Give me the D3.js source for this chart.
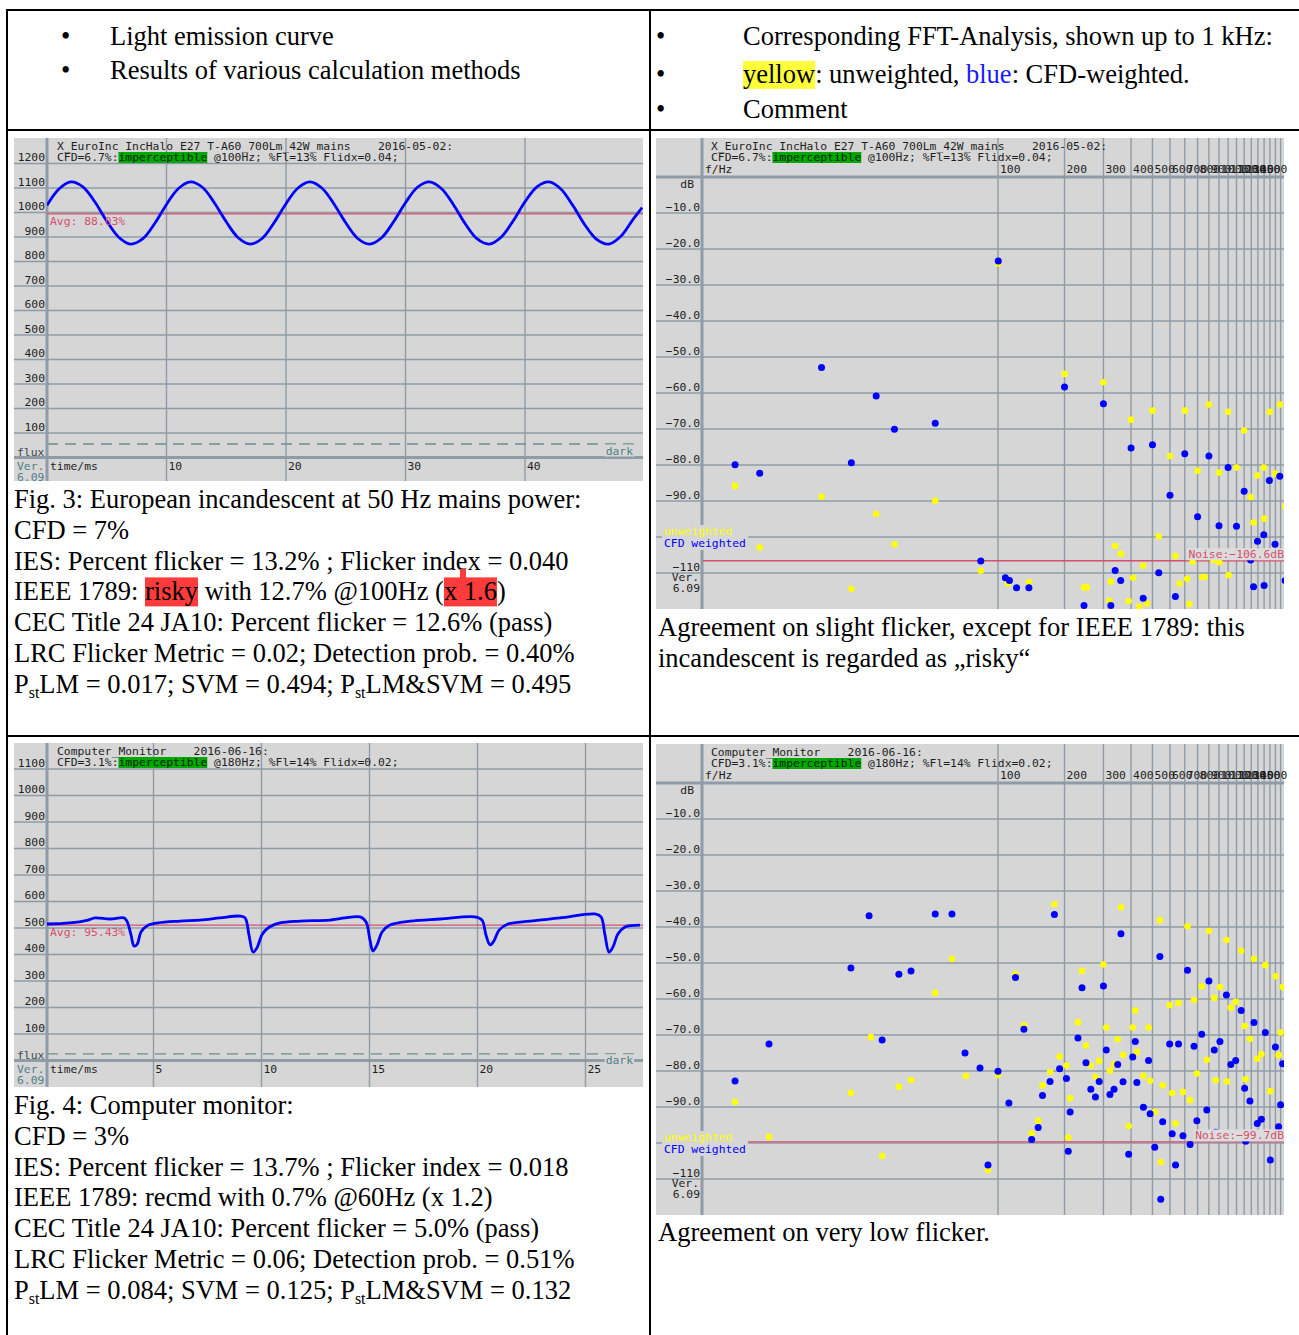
<!DOCTYPE html>
<html lang="en">
<head>
<meta charset="utf-8">
<title>Flicker measurements: incandescent lamp and computer monitor</title>
<script src="https://cdn.jsdelivr.net/npm/d3@7/dist/d3.min.js"></script>
<style>
  html, body { margin: 0; padding: 0; background: #ffffff; }
  svg { display: block; }
  text { white-space: pre; }
</style>
</head>
<body>
<svg id="fig" width="1299" height="1335"></svg>
<script>
// ---------------------------------------------------------------------------
// Fig. 3 – light output of a European incandescent lamp on 50 Hz mains
// [time in ms, relative flux]
const incandescentFlux = [
  [0,1029],[1,1096],[2,1125],[3,1105],[4,1044],[5,965],[6,899],[7,871],[8,892],[9,954],
  [10,1033],[11,1098],[12,1125],[13,1103],[14,1040],[15,962],[16,897],[17,871],[18,894],[19,958],
  [20,1036],[21,1100],[22,1125],[23,1100],[24,1036],[25,958],[26,894],[27,871],[28,897],[29,962],
  [30,1040],[31,1103],[32,1125],[33,1098],[34,1033],[35,954],[36,892],[37,871],[38,899],[39,965],
  [40,1044],[41,1105],[42,1125],[43,1096],[44,1029],[45,950],[46,890],[47,871],[48,902],[49,969],[49.8,1020]
];
const incandescentAvg = 994;
const incandescentDark = 55;
const fluxTicksFig3 = [100,200,300,400,500,600,700,800,900,1000,1100,1200];
const timeTicksFig3 = [10,20,30,40];

// Fig. 4 – light output of a computer monitor backlight
const monitorFlux = [
  [0.07,515],[1.13,519],[1.97,530],[2.29,538],[2.99,534],[3.63,538],[3.77,526],[3.96,474],[4.10,432],[4.24,438],
  [4.42,485],[4.70,508],[5.21,519],[6.23,526],[7.15,530],[8.08,538],[9.0,545],[9.24,538],[9.42,474],[9.61,409],
  [9.79,425],[10.02,474],[10.3,500],[10.86,519],[11.78,526],[13.17,530],[14.56,542],[14.84,523],[15.02,455],[15.16,413],
  [15.35,436],[15.58,485],[15.95,511],[16.88,526],[18.27,534],[19.88,542],[20.21,530],[20.39,474],[20.58,436],[20.76,451],
  [21.0,492],[21.41,515],[22.43,526],[23.82,538],[25.44,553],[25.72,542],[25.9,474],[26.09,409],[26.27,428],[26.5,477],
  [26.83,504],[27.52,511]
];
const monitorAvg = 511;
const monitorDark = 25;
const fluxTicksFig4 = [100,200,300,400,500,600,700,800,900,1000,1100];
const timeTicksFig4 = [5,10,15,20,25];

// FFT spectra, [frequency in Hz, level in dB]
const spectrumFig3Unweighted = [
  [6.46,-85.8],[8.35,-102.9],[15.9,-88.8],[21.7,-114.4],[28.1,-93.6],[34.0,-102.0],[52.0,-89.9],[83.6,-109.4],
  [100.3,-24.0],[110.9,-112.9],[138,-112.6],[200,-54.7],[245,-114],[252,-114],[300,-57.0],[319,-117.7],[324,-112.4],
  [339,-102.5],[359,-104.7],[390,-117.8],[400,-67.4],[409,-111.3],[436,-119.3],[454,-108],[473,-118.5],[500,-64.9],
  [534,-99.8],[600,-77.5],[635,-105.3],[663,-112.9],[700,-64.9],[718,-111.6],[734,-118.6],[760,-106.9],[800,-81.6],
  [840,-111.1],[860,-111.1],[900,-63.2],[944,-106.4],[1000,-82.1],[1003,-107.0],[1100,-65.2],[1105,-110.6],
  [1200,-80.7],[1300,-70.4],[1390,-88.9],[1433,-96.0],[1494,-82.9],[1595,-80.7],[1600,-94.9],[1697,-65.2],
  [1793,-82.4],[1883,-63.2],[1990,-91.6]
];
const spectrumFig3Weighted = [
  [6.46,-79.9],[8.35,-82.3],[15.9,-52.9],[21.7,-79.4],[28.1,-60.8],[34.0,-70.1],[52.0,-68.4],[83.6,-106.7],
  [100.3,-23.3],[108,-111.3],[112.7,-112.1],[121.3,-114.1],[138,-114.1],[200,-58.3],[245,-119],[300,-63.0],
  [324,-119],[339,-109.3],[359,-112.1],[400,-75.3],[454,-117],[500,-74.4],[534,-109.9],[600,-88.4],[635,-116.5],
  [700,-76.9],[800,-94.4],[900,-77.5],[1000,-96.9],[1100,-80.7],[1200,-97.0],[1300,-87.3],[1390,-106.4],
  [1433,-113.8],[1494,-101.2],[1595,-99.4],[1600,-113.5],[1690,-84.3],[1793,-102.0],[1883,-83.1],[1990,-112.1]
];
const noiseFig3 = -106.6;

const spectrumFig4Unweighted = [
  [6.46,-88.6],[9.2,-98.3],[21.6,-86.1],[26.6,-70.6],[29.9,-103.6],[35.6,-84.4],[40.4,-82.5],[52.0,-58.3],
  [61.9,-48.9],[71.6,-81.4],[90.1,-107.5],[100,-81.1],[120,-53.1],[131,-67.3],[142,-97.3],[152,-93.8],[159,-84],
  [172,-80.3],[180,-33.7],[190,-76],[204,-78.5],[208,-98.5],[212,-87.6],[230,-66.5],[240,-52.2],[250,-72.9],
  [263,-78.5],[276,-81.6],[287,-77.2],[300,-50.4],[309,-67.9],[321,-79.9],[335,-78.1],[348,-71.2],[360,-34.5],
  [368,-75.5],[390,-95.3],[407,-67.9],[418,-63.2],[425,-74.7],[455,-81.3],[480,-67.9],[488,-82.7],[512,-91.4],
  [540,-38.1],[545,-105.3],[556,-84],[598,-61.7],[614,-86.1],[636,-94.6],[656,-61.1],[687,-85.8],[720,-39.8],
  [740,-88.1],[771,-60.3],[794,-80.7],[835,-56.5],[881,-76.9],[900,-41.1],[952,-59.7],[967,-82.6],[1010,-56.7],
  [1080,-43.6],[1085,-82.9],[1131,-62.4],[1190,-60.8],[1260,-46.6],[1306,-67.5],[1320,-82.3],[1380,-71.1],
  [1440,-48.8],[1490,-76.6],[1555,-75.3],[1620,-50.6],[1707,-85.6],[1800,-53.7],[1860,-75.6],[1900,-69.3],[1940,-56.7]
];
const spectrumFig4Weighted = [
  [6.46,-82.8],[9.2,-72.5],[21.6,-51.4],[26.1,-36.9],[29.9,-71.4],[35.6,-53.1],[40.4,-52.2],[52.0,-36.4],
  [61.9,-36.4],[70.9,-75],[82.9,-79.2],[90.1,-106.1],[100,-80.1],[112,-88.9],[120,-54],[131,-68.4],[142,-99],
  [152,-95.7],[159,-86.8],[172,-82.9],[180,-36.5],[190,-79.4],[204,-82.1],[208,-102.3],[212,-91.4],[230,-70.8],
  [240,-56.9],[250,-77.7],[263,-85.1],[276,-87.2],[287,-82.9],[300,-56.4],[309,-74.2],[321,-86.5],[335,-85.1],
  [348,-78.2],[360,-41.9],[368,-83],[390,-103.1],[407,-76.1],[418,-71.8],[425,-83.2],[455,-90.1],[480,-77.1],
  [488,-91.9],[512,-101.2],[540,-48.2],[545,-115.6],[556,-94.1],[598,-72.5],[614,-97.4],[636,-106.1],[656,-72.5],
  [687,-98],[720,-52],[740,-100.4],[771,-73.1],[794,-93.8],[835,-69.8],[881,-90.8],[900,-55],[952,-74.2],[967,-97],
  [1010,-71.8],[1080,-58.9],[1085,-98.1],[1131,-78.2],[1190,-77.1],[1260,-63.2],[1306,-84.8],[1320,-99.5],
  [1380,-88.3],[1440,-66.5],[1490,-94.6],[1555,-93.4],[1620,-69.3],[1707,-104.7],[1800,-73.3],[1860,-95.5],
  [1900,-89.4],[1940,-78]
];
const noiseFig4 = -99.7;

const dbTicks = [-10,-20,-30,-40,-50,-60,-70,-80,-90,-100,-110];
const freqGrid = [100,200,300,400,500,600,700,800,900,1000,1100,1200,1300,1400,1500,1600,1700,1800,1900];
const freqLabels = [100,200,300,400,500,600,700,800,900,1000,1100,1200,1300,1400,1500];

// ---------------------------------------------------------------------------
const svg = d3.select("#fig");
const MONO = "'DejaVu Sans Mono', 'Liberation Mono', monospace";
const SERIF = "'Liberation Serif', 'Times New Roman', serif";
const COL = {
  panel: "#d6d6d6", grid: "#8f9ca8", axis: "#8f9ca8", text: "#1e1e1e",
  teal: "#4f7f86", avg: "#d5506e", curve: "#0000ff",
  blue: "#0000ff", yellow: "#ffff00", green: "#00a800", red: "#ff3b3b"
};
const MS = 11.35;  // size of the instrument's monospaced text
const TS = 26.5;   // size of the table text

svg.append("rect").attr("width", 1299).attr("height", 1335).attr("fill", "#ffffff");

// Writes a run of text pieces one after another; pieces can carry a background or be subscripts.
function richLine(g, x, y, parts, font, size, fill) {
  let cx = x;
  parts.forEach(p => {
    const s = p.sub ? size * 0.6 : size;
    const t = g.append("text")
      .attr("x", cx).attr("y", p.sub ? y + size * 0.2 : y)
      .attr("font-family", font).attr("font-size", s)
      .attr("fill", p.fill || fill)
      .text(p.t);
    const w = t.node().getComputedTextLength();
    if (p.bg) {
      g.insert("rect", () => t.node())
        .attr("x", cx + (p.dx || 0)).attr("y", y - p.up)
        .attr("width", w + (p.dw || 0)).attr("height", p.h)
        .attr("fill", p.bg);
    }
    cx += w;
  });
  return cx;
}

// ---------------------------------------------------------------------------
// time-domain panel (flux versus time)
function timePanel(o) {
  const g = svg.append("g");
  const x = d3.scaleLinear().domain(o.tDomain).range(o.xRange);
  const y = d3.scaleLinear().domain(o.vDomain).range(o.yRange);
  const axisY = y(0);

  g.append("clipPath").attr("id", o.id + "-clip").append("rect")
    .attr("x", o.axisX).attr("y", o.y0).attr("width", o.x1 - o.axisX).attr("height", axisY - o.y0);

  g.append("rect").attr("x", o.x0).attr("y", o.y0)
    .attr("width", o.x1 - o.x0).attr("height", o.y1 - o.y0).attr("fill", COL.panel);

  g.append("g").selectAll("line").data(o.vTicks).join("line")
    .attr("x1", o.x0).attr("x2", o.x1)
    .attr("y1", d => y(d)).attr("y2", d => y(d))
    .attr("stroke", COL.grid).attr("stroke-width", 1.4);

  g.append("g").selectAll("line").data(o.tTicks).join("line")
    .attr("x1", d => x(d)).attr("x2", d => x(d))
    .attr("y1", o.y0).attr("y2", o.y1)
    .attr("stroke", COL.grid).attr("stroke-width", 1.4);

  // dark level
  g.append("line")
    .attr("x1", o.axisX).attr("x2", o.x1 - 6)
    .attr("y1", y(o.dark)).attr("y2", y(o.dark))
    .attr("stroke", "#6d8c8c").attr("stroke-width", 1.4).attr("stroke-dasharray", "11,7");

  // frame axes
  g.append("line").attr("x1", o.x0).attr("x2", o.x1).attr("y1", axisY).attr("y2", axisY)
    .attr("stroke", COL.axis).attr("stroke-width", 3);
  g.append("line").attr("x1", o.axisX).attr("x2", o.axisX).attr("y1", o.y0).attr("y2", o.y1)
    .attr("stroke", COL.axis).attr("stroke-width", 3);

  // average
  g.append("line").attr("x1", o.axisX).attr("x2", o.x1)
    .attr("y1", y(o.avg)).attr("y2", y(o.avg))
    .attr("stroke", COL.avg).attr("stroke-width", 1.3);

  const line = d3.line().x(d => x(d[0])).y(d => y(d[1])).curve(d3.curveCatmullRom.alpha(0.5));
  g.append("path").datum(o.data)
    .attr("d", line).attr("fill", "none")
    .attr("stroke", COL.curve).attr("stroke-width", 2.8)
    .attr("stroke-linejoin", "round")
    .attr("clip-path", `url(#${o.id}-clip)`);

  // labels
  const mono = sel => sel.attr("font-family", MONO).attr("font-size", MS);
  g.append("g").selectAll("text").data(o.vTicks).join("text").call(mono)
    .attr("x", o.axisX - 2).attr("y", d => y(d) - 2.5).attr("text-anchor", "end")
    .attr("fill", COL.text).text(d => d3.format("d")(d));
  g.append("g").selectAll("text").data(o.tTicks).join("text").call(mono)
    .attr("x", d => x(d) + 2).attr("y", axisY + 12)
    .attr("fill", COL.text).text(d => d3.format("d")(d));
  g.append("text").call(mono).attr("x", o.axisX + 3).attr("y", axisY + 12).attr("fill", COL.text).text("time/ms");
  g.append("text").call(mono).attr("x", o.x0 + 3).attr("y", axisY - 2).attr("fill", "#3a4a4a").text("flux");
  g.append("text").call(mono).attr("x", o.x0 + 3).attr("y", axisY + 12).attr("fill", COL.teal).text("Ver.");
  g.append("text").call(mono).attr("x", o.x0 + 3).attr("y", axisY + 23).attr("fill", COL.teal).text("6.09");

  const dk = g.append("text").call(mono).attr("x", o.x1 - 10).attr("y", y(o.dark) + 10.5)
    .attr("text-anchor", "end").attr("fill", COL.teal).text("dark");
  const bb = dk.node().getBBox();
  g.insert("rect", () => dk.node()).attr("x", bb.x - 1).attr("y", bb.y + 1)
    .attr("width", bb.width + 2).attr("height", bb.height - 2).attr("fill", COL.panel);

  g.append("text").call(mono).attr("x", o.axisX + 3).attr("y", y(o.avg) + 11)
    .attr("fill", COL.avg).text(o.avgLabel);

  // instrument header
  richLine(g, o.axisX + 10, o.y0 + 12, [{ t: o.title }], MONO, MS, COL.text);
  richLine(g, o.axisX + 10, o.y0 + 23, [
    { t: o.cfd },
    { t: "imperceptible", bg: COL.green, up: 9, h: 11, fill: "#06240a" },
    { t: o.rest }
  ], MONO, MS, COL.text);
}

// ---------------------------------------------------------------------------
// FFT panel (level versus frequency)
function fftPanel(o) {
  const g = svg.append("g");
  const x = d3.scaleLog().domain([100, 1000]).range([998, 1219]);
  const y = d3.scaleLinear().domain([0, -120]).range([o.yTop, o.yTop + 432]);
  const X0 = 656, X1 = 1284, AX = 702;

  g.append("clipPath").attr("id", o.id + "-clip").append("rect")
    .attr("x", AX + 1).attr("y", o.yTop).attr("width", X1 - AX - 1).attr("height", o.y1 - o.yTop);

  g.append("rect").attr("x", X0).attr("y", o.y0).attr("width", X1 - X0).attr("height", o.y1 - o.y0)
    .attr("fill", COL.panel);

  g.append("g").selectAll("line").data(dbTicks).join("line")
    .attr("x1", X0).attr("x2", X1).attr("y1", d => y(d)).attr("y2", d => y(d))
    .attr("stroke", COL.grid).attr("stroke-width", 1.4);
  g.append("g").selectAll("line").data(freqGrid).join("line")
    .attr("x1", d => x(d)).attr("x2", d => x(d)).attr("y1", o.y0).attr("y2", o.y1)
    .attr("stroke", COL.grid).attr("stroke-width", 1.4);

  g.append("line").attr("x1", X0).attr("x2", X1).attr("y1", y(0)).attr("y2", y(0))
    .attr("stroke", COL.axis).attr("stroke-width", 3);
  g.append("line").attr("x1", AX).attr("x2", AX).attr("y1", o.y0).attr("y2", o.y1)
    .attr("stroke", COL.axis).attr("stroke-width", 3);

  const mono = sel => sel.attr("font-family", MONO).attr("font-size", MS);

  // instrument header
  richLine(g, 711, o.y0 + 12, [{ t: o.title }], MONO, MS, COL.text);
  richLine(g, 711, o.y0 + 23, [
    { t: o.cfd },
    { t: "imperceptible", bg: COL.green, up: 9, h: 11, fill: "#06240a" },
    { t: o.rest }
  ], MONO, MS, COL.text);
  g.append("text").call(mono).attr("x", AX + 3).attr("y", y(0) - 4).attr("fill", COL.text).text("f/Hz");
  g.append("g").selectAll("text").data(freqLabels).join("text").call(mono)
    .attr("x", d => x(d) + 2).attr("y", y(0) - 4).attr("fill", COL.text).text(d => d3.format("d")(d));

  g.append("text").call(mono).attr("x", AX - 8).attr("y", y(0) + 11).attr("text-anchor", "end")
    .attr("fill", COL.text).text("dB");
  g.append("g").selectAll("text").data(dbTicks.filter(d => d !== -100)).join("text").call(mono)
    .attr("x", AX - 2).attr("y", d => y(d) - 2.5).attr("text-anchor", "end").attr("fill", COL.text)
    .text(d => d <= -110 ? d3.format("d")(d) : d3.format(".1f")(d));
  g.append("text").call(mono).attr("x", AX - 3).attr("y", y(-110) + 8).attr("text-anchor", "end")
    .attr("fill", COL.text).text("Ver.");
  g.append("text").call(mono).attr("x", AX - 2).attr("y", y(-110) + 18.5).attr("text-anchor", "end")
    .attr("fill", COL.text).text("6.09");

  // noise floor
  g.append("line").attr("x1", AX + 1).attr("x2", X1).attr("y1", y(o.noise)).attr("y2", y(o.noise))
    .attr("stroke", COL.avg).attr("stroke-width", 1.4);

  // spectral lines: unweighted first, CFD weighted on top
  const dots = g.append("g").attr("clip-path", `url(#${o.id}-clip)`);
  dots.append("g").selectAll("circle").data(o.unweighted).join("circle")
    .attr("cx", d => x(d[0])).attr("cy", d => y(d[1])).attr("r", 3.3).attr("fill", COL.yellow);
  dots.append("g").selectAll("circle").data(o.weighted).join("circle")
    .attr("cx", d => x(d[0])).attr("cy", d => y(d[1])).attr("r", 3.5).attr("fill", COL.blue);

  const nl = g.append("text").call(mono).attr("x", X1).attr("y", y(o.noise) - 2.5)
    .attr("text-anchor", "end").attr("fill", COL.avg)
    .text("Noise:" + d3.format(".1f")(o.noise) + "dB");
  const nb = nl.node().getBBox();
  g.insert("rect", () => nl.node()).attr("x", nb.x - 2).attr("y", nb.y + 1)
    .attr("width", nb.width + 2).attr("height", nb.height - 2).attr("fill", "#dcdcdc");

  // legend
  g.append("rect").attr("x", 662).attr("y", y(-100) - 12).attr("width", 86).attr("height", 25)
    .attr("fill", COL.panel);
  g.append("text").call(mono).attr("x", 664).attr("y", y(-100) - 2).attr("fill", COL.yellow).text("unweighted");
  g.append("text").call(mono).attr("x", 664).attr("y", y(-100) + 10).attr("fill", COL.blue).text("CFD weighted");
}

// ---------------------------------------------------------------------------
// table frame
const frame = svg.append("g").attr("stroke", "#000").attr("stroke-width", 2);
frame.append("line").attr("x1", 6).attr("x2", 1299).attr("y1", 10).attr("y2", 10);
frame.append("line").attr("x1", 7).attr("x2", 7).attr("y1", 9).attr("y2", 1335);
frame.append("line").attr("x1", 650).attr("x2", 650).attr("y1", 9).attr("y2", 1335);
frame.append("line").attr("x1", 6).attr("x2", 1299).attr("y1", 130).attr("y2", 130);
frame.append("line").attr("x1", 6).attr("x2", 1299).attr("y1", 736).attr("y2", 736);

// header row
const head = svg.append("g");
[[45, "Light emission curve"], [79, "Results of various calculation methods"]].forEach(([yy, t]) => {
  head.append("text").attr("x", 61).attr("y", yy).attr("font-family", SERIF).attr("font-size", TS).text("\u2022");
  head.append("text").attr("x", 110).attr("y", yy).attr("font-family", SERIF).attr("font-size", TS).text(t);
});
[45, 83, 118].forEach(yy => head.append("text").attr("x", 656).attr("y", yy)
  .attr("font-family", SERIF).attr("font-size", TS).text("\u2022"));
richLine(head, 743, 45, [{ t: "Corresponding FFT-Analysis, shown up to 1 kHz:" }], SERIF, TS, "#000");
richLine(head, 743, 83, [
  { t: "yellow", bg: "#ffff3a", up: 22, h: 28 },
  { t: ": unweighted, " },
  { t: "blue", fill: "#1a1aff" },
  { t: ": CFD-weighted." }
], SERIF, TS, "#000");
richLine(head, 743, 118, [{ t: "Comment" }], SERIF, TS, "#000");

// charts
timePanel({
  id: "fig3t", x0: 14, x1: 643, y0: 138, y1: 481, axisX: 47,
  tDomain: [0, 50], xRange: [47, 644.5],
  vDomain: [0, 1200], yRange: [457.5, 163.5],
  vTicks: fluxTicksFig3, tTicks: timeTicksFig3,
  data: incandescentFlux, avg: incandescentAvg, dark: incandescentDark, avgLabel: "Avg: 88.03%",
  title: "X_EuroInc_IncHalo_E27_T-A60_700Lm_42W_mains    2016-05-02:",
  cfd: "CFD=6.7%:", rest: " @100Hz; %Fl=13% Flidx=0.04;"
});
timePanel({
  id: "fig4t", x0: 14, x1: 643, y0: 743, y1: 1087, axisX: 47,
  tDomain: [0, 27.5], xRange: [45.5, 639.5],
  vDomain: [0, 1100], yRange: [1060.5, 769],
  vTicks: fluxTicksFig4, tTicks: timeTicksFig4,
  data: monitorFlux, avg: monitorAvg, dark: monitorDark, avgLabel: "Avg: 95.43%",
  title: "Computer_Monitor    2016-06-16:",
  cfd: "CFD=3.1%:", rest: " @180Hz; %Fl=14% Flidx=0.02;"
});
fftPanel({
  id: "fig3f", y0: 138, y1: 609, yTop: 177,
  unweighted: spectrumFig3Unweighted, weighted: spectrumFig3Weighted, noise: noiseFig3,
  title: "X_EuroInc_IncHalo_E27_T-A60_700Lm_42W_mains    2016-05-02:",
  cfd: "CFD=6.7%:", rest: " @100Hz; %Fl=13% Flidx=0.04;"
});
fftPanel({
  id: "fig4f", y0: 744, y1: 1215, yTop: 783,
  unweighted: spectrumFig4Unweighted, weighted: spectrumFig4Weighted, noise: noiseFig4,
  title: "Computer_Monitor    2016-06-16:",
  cfd: "CFD=3.1%:", rest: " @180Hz; %Fl=14% Flidx=0.02;"
});

// captions
const cap = svg.append("g");
function caption(x, y0, lines) {
  lines.forEach((parts, i) => richLine(cap, x, y0 + i * 30.8, parts, SERIF, TS, "#000"));
}
caption(14, 508, [
  [{ t: "Fig. 3: European incandescent at 50 Hz mains power:" }],
  [{ t: "CFD = 7%" }],
  [{ t: "IES: Percent flicker = 13.2% ; Flicker index = 0.040" }],
  [{ t: "IEEE 1789: " }, { t: "risky", bg: COL.red, up: 23, h: 29 }, { t: " with 12.7% @100Hz (" },
   { t: "x 1.6", bg: COL.red, up: 23, h: 29 }, { t: ")" }],
  [{ t: "CEC Title 24 JA10: Percent flicker = 12.6% (pass)" }],
  [{ t: "LRC Flicker Metric = 0.02; Detection prob. = 0.40%" }],
  [{ t: "P" }, { t: "st", sub: true }, { t: "LM = 0.017; SVM = 0.494; P" }, { t: "st", sub: true }, { t: "LM&SVM = 0.495" }]
]);
// small red mark above the "x 1.6" highlight
cap.append("rect").attr("x", 460).attr("y", 569).attr("width", 6).attr("height", 9).attr("fill", COL.red);
caption(658, 636, [
  [{ t: "Agreement on slight flicker, except for IEEE 1789: this" }],
  [{ t: "incandescent is regarded as \u201Erisky\u201C" }]
]);
caption(14, 1114, [
  [{ t: "Fig. 4: Computer monitor:" }],
  [{ t: "CFD = 3%" }],
  [{ t: "IES: Percent flicker = 13.7% ; Flicker index = 0.018" }],
  [{ t: "IEEE 1789: recmd with 0.7% @60Hz (x 1.2)" }],
  [{ t: "CEC Title 24 JA10: Percent flicker = 5.0% (pass)" }],
  [{ t: "LRC Flicker Metric = 0.06; Detection prob. = 0.51%" }],
  [{ t: "P" }, { t: "st", sub: true }, { t: "LM = 0.084; SVM = 0.125; P" }, { t: "st", sub: true }, { t: "LM&SVM = 0.132" }]
]);
caption(658, 1241, [[{ t: "Agreement on very low flicker." }]]);
</script>
</body>
</html>
